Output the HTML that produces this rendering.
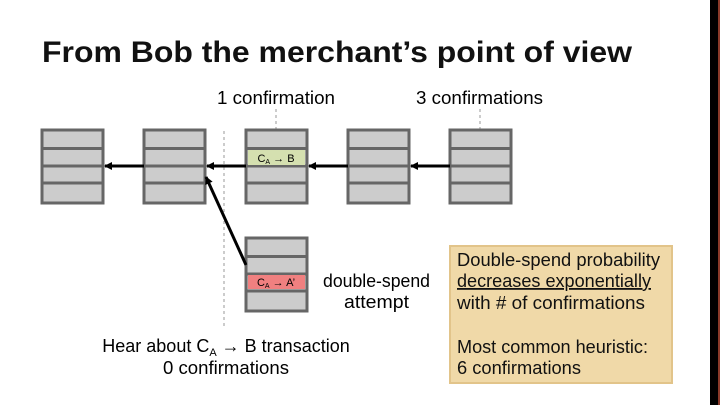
<!DOCTYPE html>
<html><head><meta charset="utf-8"><style>
html,body{margin:0;padding:0;background:#fff;}
svg{display:block;font-family:"Liberation Sans","DejaVu Sans",sans-serif;}
</style></head><body>
<svg width="720" height="405" viewBox="0 0 720 405" xmlns="http://www.w3.org/2000/svg">
<defs>
<marker id="ah" markerWidth="8" markerHeight="8" refX="7" refY="4" orient="auto" markerUnits="userSpaceOnUse">
<path d="M0,0 L8,4 L0,8 z" fill="#000"/></marker>
<g id="blk">
<rect x="0" y="0" width="61" height="73" fill="#cccccc" stroke="#666" stroke-width="3"/>
<line x1="0" y1="18.5" x2="61" y2="18.5" stroke="#666" stroke-width="3"/>
<line x1="0" y1="36" x2="61" y2="36" stroke="#666" stroke-width="3"/>
<line x1="0" y1="53" x2="61" y2="53" stroke="#666" stroke-width="3"/>
</g>
</defs>
<rect x="710" y="0" width="8" height="405" fill="#000"/>
<rect x="718" y="0" width="2" height="405" fill="#8a3a2a"/>
<text x="42" y="62" font-size="30" font-weight="bold" fill="#111" textLength="590" lengthAdjust="spacingAndGlyphs">From Bob the merchant’s point of view</text>
<text x="217" y="104" font-size="18" textLength="118" lengthAdjust="spacingAndGlyphs">1 confirmation</text>
<text x="416" y="104" font-size="18" textLength="127" lengthAdjust="spacingAndGlyphs">3 confirmations</text>
<line x1="276" y1="109" x2="276" y2="150" stroke="#999" stroke-dasharray="3,3"/>
<line x1="480" y1="109" x2="480" y2="130" stroke="#999" stroke-dasharray="3,3"/>
<line x1="224" y1="131" x2="224" y2="328" stroke="#999" stroke-dasharray="3,3"/>
<use href="#blk" x="42" y="130"/>
<use href="#blk" x="144" y="130"/>
<use href="#blk" x="246" y="130"/>
<use href="#blk" x="348" y="130"/>
<use href="#blk" x="450" y="130"/>
<rect x="248" y="150" width="57" height="15" fill="#d5e0b0"/>
<text x="276" y="162" font-size="11" text-anchor="middle">C<tspan font-size="7" dy="2">A</tspan><tspan dy="-2"> → B</tspan></text>
<use href="#blk" x="246" y="238"/>
<rect x="248" y="275" width="57" height="14" fill="#f08080"/>
<text x="276" y="286" font-size="11" text-anchor="middle">C<tspan font-size="7" dy="2">A</tspan><tspan dy="-2"> → A’</tspan></text>
<g stroke="#000" stroke-width="3" marker-end="url(#ah)">
<line x1="144" y1="166" x2="105" y2="166"/>
<line x1="246" y1="166" x2="207" y2="166"/>
<line x1="348" y1="166" x2="309" y2="166"/>
<line x1="450" y1="166" x2="411" y2="166"/>
<line x1="246" y1="265" x2="206" y2="177"/>
</g>
<text x="323" y="287" font-size="18" textLength="107" lengthAdjust="spacingAndGlyphs">double-spend</text>
<text x="344" y="308" font-size="18" textLength="65" lengthAdjust="spacingAndGlyphs">attempt</text>
<text x="226" y="352" font-size="18" text-anchor="middle">Hear about C<tspan font-size="11" dy="4">A</tspan><tspan dy="-4"> → B transaction</tspan></text>
<text x="163" y="374" font-size="18" textLength="126" lengthAdjust="spacingAndGlyphs">0 confirmations</text>
<rect x="450" y="246" width="222" height="137" fill="#f0d9a8" stroke="#e2c48a" stroke-width="2"/>
<g font-size="18" fill="#111">
<text x="457" y="266" textLength="203" lengthAdjust="spacingAndGlyphs">Double-spend probability</text>
<text x="457" y="287" text-decoration="underline" textLength="194" lengthAdjust="spacingAndGlyphs">decreases exponentially</text>
<text x="457" y="309" textLength="188" lengthAdjust="spacingAndGlyphs">with # of confirmations</text>
<text x="457" y="353" textLength="191" lengthAdjust="spacingAndGlyphs">Most common heuristic:</text>
<text x="457" y="374" textLength="124" lengthAdjust="spacingAndGlyphs">6 confirmations</text>
</g>
</svg>
</body></html>
